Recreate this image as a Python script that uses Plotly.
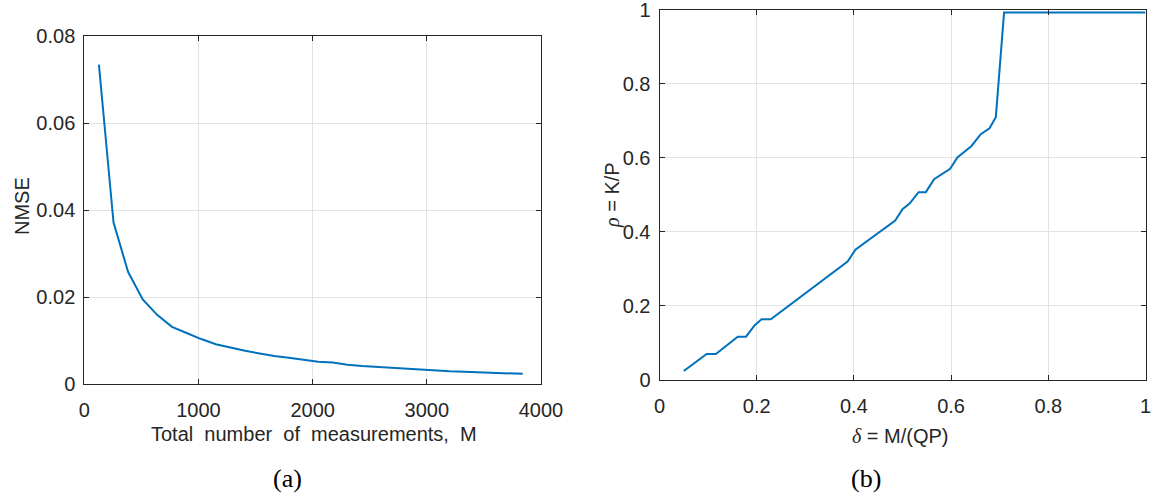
import plotly.graph_objects as go

# (a) NMSE versus total number of measurements
measurements = [128, 256, 384, 512, 640, 768, 896, 1024, 1152, 1280,
                1408, 1536, 1664, 1792, 1920, 2048, 2176, 2304, 2432, 2560,
                2688, 2816, 2944, 3072, 3200, 3328, 3456, 3584, 3712, 3840]
nmse = [0.0735, 0.0372, 0.0258, 0.0195, 0.0159, 0.0132, 0.0118, 0.0104, 0.0092, 0.0084,
        0.0077, 0.0071, 0.0065, 0.0061, 0.0057, 0.0052, 0.0050, 0.0045, 0.0042, 0.0040,
        0.0038, 0.0035, 0.0034, 0.0032, 0.0030, 0.0029, 0.0028, 0.0027, 0.0025, 0.0024]

# (b) phase-transition curve rho = K/P versus delta = M/(QP)
delta = [0.050, 0.097, 0.116, 0.161, 0.178, 0.196, 0.210, 0.229, 0.387, 0.403,
         0.485, 0.500, 0.515, 0.533, 0.548, 0.565, 0.598, 0.613, 0.642, 0.661,
         0.679, 0.692, 0.709, 1.000]
rho = [0.023, 0.069, 0.069, 0.116, 0.116, 0.147, 0.163, 0.163, 0.319, 0.351,
       0.430, 0.461, 0.477, 0.507, 0.507, 0.542, 0.570, 0.601, 0.632, 0.664,
       0.680, 0.710, 0.993, 0.993]

left_xticks = [0, 1000, 2000, 3000, 4000]
left_yticks = [0, 0.02, 0.04, 0.06, 0.08]
left_yticklabels = ["0", "0.02", "0.04", "0.06", "0.08"]
right_ticks = [0, 0.2, 0.4, 0.6, 0.8, 1]
right_ticklabels = ["0", "0.2", "0.4", "0.6", "0.8", "1"]

W, H = 1156, 494
INK = "#262626"
GRID = "#e3e3e3"
BLUE = "#0072BD"
SANS = "Liberation Sans, Arial, sans-serif"
SERIF = "Liberation Serif, DejaVu Serif, serif"

fig = go.Figure()
fig.add_trace(go.Scatter(x=measurements, y=nmse, mode="lines",
                         line=dict(color=BLUE, width=2), xaxis="x", yaxis="y",
                         showlegend=False, hoverinfo="skip"))
fig.add_trace(go.Scatter(x=delta, y=rho, mode="lines",
                         line=dict(color=BLUE, width=2), xaxis="x2", yaxis="y2",
                         showlegend=False, hoverinfo="skip"))

def px_x(p):
    return p / W

def px_y(p):
    return 1 - p / H

axis_common = dict(showline=True, linecolor=INK, linewidth=1, mirror="ticks",
                   ticks="inside", ticklen=5, tickcolor=INK, tickwidth=1,
                   showgrid=True, gridcolor=GRID, gridwidth=1, zeroline=False,
                   automargin=False, ticklabeloverflow="allow",
                   tickfont=dict(family=SANS, size=20, color=INK))
x_common = dict(axis_common, ticklabelstandoff=8)
y_common = dict(axis_common, ticklabelstandoff=4)

fig.update_layout(
    width=W, height=H,
    margin=dict(l=0, r=0, t=0, b=0),
    paper_bgcolor="white", plot_bgcolor="white",
    xaxis=dict(x_common, domain=[px_x(84.3), px_x(541)], range=[0, 4000],
               tickvals=left_xticks, ticktext=[str(v) for v in left_xticks],
               anchor="y"),
    yaxis=dict(y_common, domain=[px_y(384.3), px_y(36.3)], range=[0, 0.08],
               tickvals=left_yticks, ticktext=left_yticklabels, anchor="x"),
    xaxis2=dict(x_common, domain=[px_x(659.5), px_x(1145.5)], range=[0, 1],
                tickvals=right_ticks, ticktext=right_ticklabels, anchor="y2"),
    yaxis2=dict(y_common, domain=[px_y(379.5), px_y(10)], range=[0, 1],
                tickvals=right_ticks, ticktext=right_ticklabels, anchor="x2"),
)

label_font = dict(family=SANS, size=20, color=INK)
caption_font = dict(family=SERIF, size=26, color="#000000")
ital = "<span style='font-family:Liberation Serif;font-style:italic'>{}</span>"

annotations = [
    dict(text="Total&nbsp; number&nbsp; of&nbsp; measurements,&nbsp; M",
         x=px_x(314), y=px_y(434), font=label_font),
    dict(text="NMSE", x=px_x(22), y=px_y(206), textangle=-90, font=label_font),
    dict(text=ital.format("δ") + "&nbsp;=&nbsp;M/(QP)",
         x=px_x(900), y=px_y(436), font=label_font),
    dict(text=ital.format("ρ") + "&nbsp;=&nbsp;K/P",
         x=px_x(612), y=px_y(195), textangle=-90, font=label_font),
    dict(text="(a)", x=px_x(287), y=px_y(478), font=caption_font),
    dict(text="(b)", x=px_x(866), y=px_y(478), font=caption_font),
]
for a in annotations:
    a.update(xref="paper", yref="paper", showarrow=False,
             xanchor="center", yanchor="middle")
fig.update_layout(annotations=annotations)

fig.write_html("out.html")
